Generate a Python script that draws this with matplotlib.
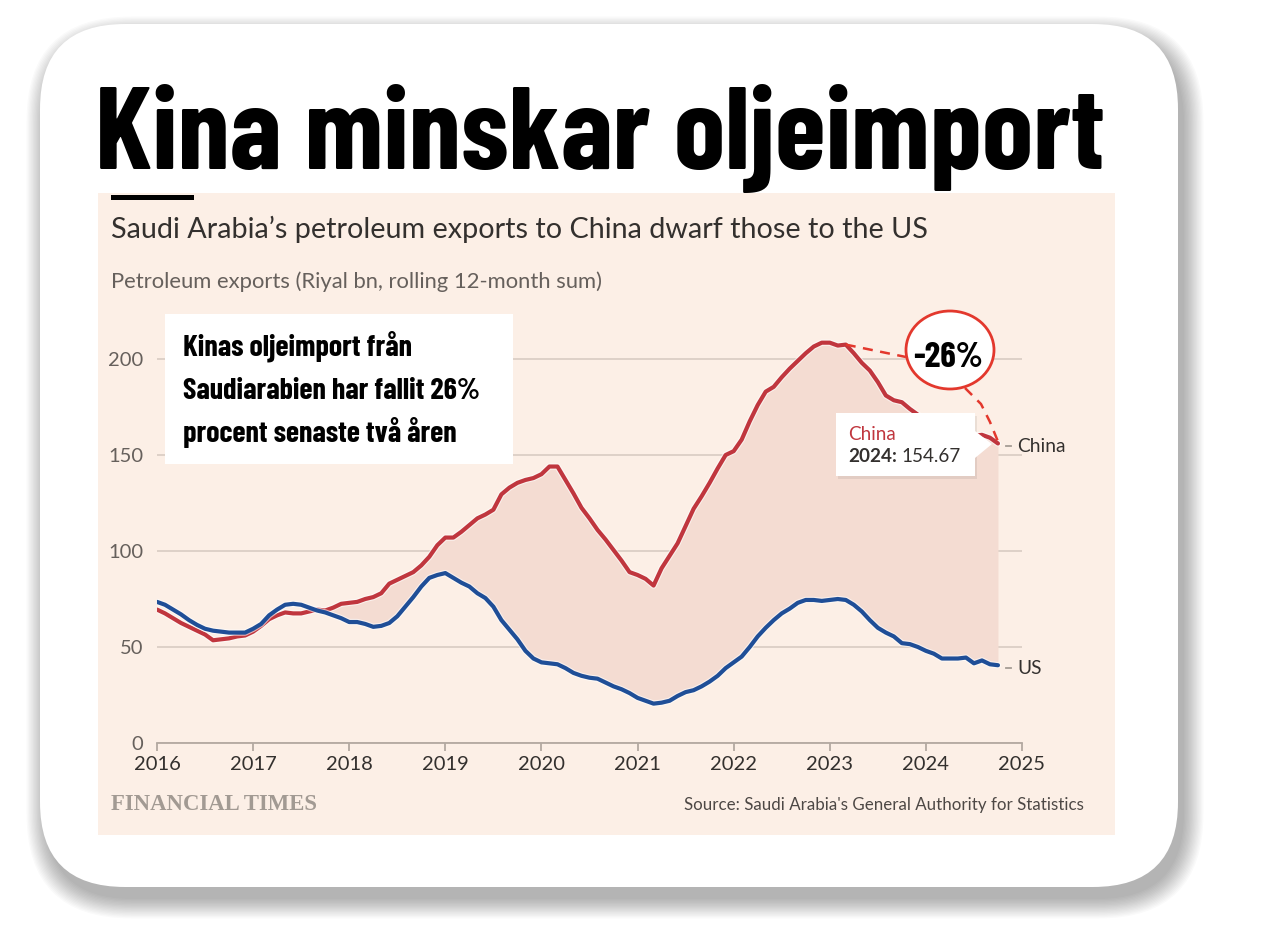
import numpy as np
import matplotlib
matplotlib.use("Agg")
import matplotlib.pyplot as plt
import matplotlib.patheffects as pe
from matplotlib import font_manager
from matplotlib.patches import FancyBboxPatch, Ellipse, Polygon, Rectangle

W, H = 1262, 926

# monthly values, Jan 2016 .. Oct 2024 (Riyal bn, rolling 12-month sum)
START_YEAR = 2016
CHINA = [
    69.5, 67.5, 65, 62.5, 60.5, 58.5, 56.5, 53.5, 54, 54.5, 55.5, 56,
    58, 61, 64.5, 66.5, 68, 67.5, 67.5, 68.5, 69.5, 69, 70.5, 72.5,
    73, 73.5, 75, 76, 78, 83, 85, 87, 89, 92.5, 97, 103,
    107, 107, 110, 113.5, 117, 119, 121.5, 129.5, 133, 135.5, 137, 138,
    140, 144, 144, 137, 130, 122.5, 117, 111, 106, 100.5, 95, 89,
    87.5, 85.5, 82, 91, 97.5, 104, 113, 122, 128.5, 135.5, 143, 150,
    152, 158, 167.5, 176, 183, 185.5, 190.5, 195, 199, 203, 206.5, 208.5,
    208.5, 207, 207.5, 203, 198, 194, 188, 181, 178.5, 177.5, 174, 171,
    168, 166, 164, 163, 162, 161, 160, 160.5, 159, 156,
]
US = [
    73.5, 72, 69.5, 67, 64, 61.5, 59.5, 58.5, 58, 57.5, 57.5, 57.5,
    59.5, 62, 66.5, 69.5, 72, 72.5, 72, 70.5, 69, 68, 66.5, 65,
    63, 63, 62, 60.5, 61, 62.5, 66, 71, 76, 81.5, 86, 87.5,
    88.5, 86, 83.5, 81.5, 78, 75.5, 71, 64, 59, 54, 48, 44,
    42, 41.5, 41, 39, 36.5, 35, 34, 33.5, 31.5, 29.5, 28, 26,
    23.5, 22, 20.5, 21, 22, 24.5, 26.5, 27.5, 29.5, 32, 35, 39,
    42, 45, 50, 55.5, 60, 64, 67.5, 70, 73, 74.5, 74.5, 74,
    74.5, 75, 74.5, 72, 68.5, 64, 60, 57.5, 55.5, 52, 51.5, 50,
    48, 46.5, 44, 44, 44, 44.5, 41.5, 43, 41, 40.5,
]
YEAR_TICKS = list(range(2016, 2026))
VALUE_TICKS = [0, 50, 100, 150, 200]

TITLE = "Kina minskar oljeimport"
SUBTITLE = "Saudi Arabia\u2019s petroleum exports to China dwarf those to the US"
UNITS = "Petroleum exports (Riyal bn, rolling 12-month sum)"
NOTE_LINES = ["Kinas oljeimport från", "Saudiarabien har fallit 26%", "procent senaste två åren"]
SOURCE = "Source: Saudi Arabia's General Authority for Statistics"
LOGO = "FINANCIAL TIMES"
BADGE = "-26%"
TIP_SERIES, TIP_YEAR, TIP_VALUE = "China", "2024:", "154.67"

RED = "#C0363E"
BLUE = "#1F4E97"
PAPER = "#FCEFE6"
INK = "#33302E"
GREY = "#66605C"

available = {f.name for f in font_manager.fontManager.ttflist}


def pick(cands, default="DejaVu Sans"):
    for c in cands:
        if c in available:
            return c
    return default


COND = pick(["Barlow Condensed", "Fjalla One", "Roboto Condensed", "DejaVu Sans"])
SANS = pick(["Lato", "Open Sans", "Noto Sans"])
SERIF = pick(["Liberation Serif", "DejaVu Serif"])

fig = plt.figure(figsize=(W / 100, H / 100), dpi=100)
fig.patch.set_facecolor("white")

bg = fig.add_axes([0, 0, 1, 1], zorder=0)
bg.set_xlim(0, W)
bg.set_ylim(H, 0)
bg.axis("off")

# card shadow + card
cx0, cy0, cx1, cy1, rad = 40, 24, 1178, 887, 85
for i in range(16):
    s = i * 1.3
    bg.add_patch(FancyBboxPatch((cx0 + 6 - s, cy0 + 12 - s), cx1 - cx0 + 2 * s, cy1 - cy0 + 2 * s,
                                boxstyle=f"round,pad=0,rounding_size={rad + s}",
                                fc="black", ec="none", alpha=0.018))
bg.add_patch(FancyBboxPatch((cx0, cy0), cx1 - cx0, cy1 - cy0,
                            boxstyle=f"round,pad=0,rounding_size={rad}", fc="white", ec="none"))
bg.add_patch(Rectangle((98, 193), 1115 - 98, 835 - 193, fc=PAPER, ec="none"))
bg.add_patch(Rectangle((111, 195), 83, 5, fc="black", ec="none"))

sub = bg.text(111, 229, SUBTITLE, fontsize=16, family=SANS, color=INK, va="center")
units = bg.text(111, 282, UNITS, fontsize=12.5, family=SANS, color=GREY, va="center")
logo = bg.text(111, 804, LOGO, fontsize=14, family=SERIF, weight="bold", color="#A29A93", va="center")
src = bg.text(1084, 805, SOURCE, fontsize=11, family=SANS, color="#4D4845", va="center", ha="right")

# chart axes
y_px0, px_per = 743, 1.92
ymax = 220
ax = fig.add_axes([157 / W, (H - y_px0) / H, (1022 - 157) / W, ymax * px_per / H], zorder=1)
ax.set_facecolor("none")
x = START_YEAR + np.arange(len(CHINA)) / 12
china = np.array(CHINA)
us = np.array(US)
ax.fill_between(x, us, china, where=china >= us, interpolate=True, color="#F4DCD2", lw=0)
halo = [pe.Stroke(linewidth=4.6, foreground="white", alpha=0.6), pe.Normal()]
ax.plot(x, china, color=RED, lw=3, solid_capstyle="round", path_effects=halo, zorder=3)
ax.plot(x, us, color=BLUE, lw=3, solid_capstyle="round", path_effects=halo, zorder=3)
ax.set_xlim(2016, 2025)
ax.set_ylim(0, ymax)
ax.set_xticks(YEAR_TICKS)
ax.set_yticks(VALUE_TICKS)
ax.grid(axis="y", color="#D8CCC3", lw=1.2)
ax.set_axisbelow(True)
for side in ("left", "right", "top"):
    ax.spines[side].set_visible(False)
ax.spines["bottom"].set_color("#B3A9A1")
ax.spines["bottom"].set_linewidth(1.3)
ax.tick_params(axis="x", length=6, width=1.3, color="#B3A9A1", pad=3, labelsize=14.5, labelcolor=INK)
ax.tick_params(axis="y", length=0, pad=10, labelsize=14.5, labelcolor=GREY)
for lab in ax.get_xticklabels() + ax.get_yticklabels():
    lab.set_family(SANS)


def to_px(xv, yv):
    dx, dy = ax.transData.transform((xv, yv))
    return dx, H - dy


# overlay layer
ov = fig.add_axes([0, 0, 1, 1], zorder=2)
ov.set_xlim(0, W)
ov.set_ylim(H, 0)
ov.axis("off")
ov.set_facecolor("none")

end_labels = []
for name, vals in (("China", china), ("US", us)):
    px, py = to_px(x[-1], vals[-1])
    ov.plot([1006, 1011], [py + 3, py + 3], color="#A59C95", lw=1.3)
    end_labels.append(ov.text(1017, py + 3, name, fontsize=13, family=SANS, color=INK, va="center"))

# note box
ov.add_patch(Rectangle((165, 314), 513 - 165, 464 - 314, fc="white", ec="none"))
notes = [ov.text(183, 356 + 43 * i, line, fontsize=22, family=COND, weight="bold",
                 color="black", va="baseline") for i, line in enumerate(NOTE_LINES)]

# badge with dashed connectors
bcx, bcy = 950, 350
peak = to_px(x[86], china[86])
end = to_px(x[-1], china[-1])
dash = dict(color="#E3382D", lw=1.8, ls=(0, (4, 3)))
ov.plot([peak[0], 906], [peak[1], 357], **dash)
ov.plot([965, 981, 990, end[0]], [388, 404, 422, end[1] - 2], **dash)
ov.add_patch(Ellipse((bcx, bcy), 88, 78, fc="white", ec="#E3382D", lw=2))
badge = ov.text(bcx - 2, bcy + 17, BADGE, fontsize=34, family=COND, weight="bold", color="black",
                ha="center", va="baseline")

# tooltip
ov.add_patch(Rectangle((838, 416), 139, 63, fc="black", ec="none", alpha=0.07))
ov.add_patch(Polygon([(975, 431), (992, 444), (975, 458)], closed=True, fc="white", ec="none"))
ov.add_patch(Rectangle((836, 413), 139, 63, fc="white", ec="none"))
tip_s = ov.text(848, 434, TIP_SERIES, fontsize=12.5, family=SANS, color=RED, va="center")
tip_y = ov.text(848, 456, TIP_YEAR, fontsize=12.5, family=SANS, weight="bold", color=INK, va="center")

# title
title = bg.text(95, 169, TITLE, fontsize=100, family=COND, weight="bold", color="black", va="baseline")

fig.canvas.draw()
rend = fig.canvas.get_renderer()


def fit(t, width):
    t.set_fontsize(t.get_fontsize() * width / t.get_window_extent(rend).width)


fit(title, 1010)
fit(sub, 820)
fit(units, 492)
fit(logo, 207)
fit(src, 398)
fit(badge, 70)
fit(notes[1], 298)
for t in notes:
    t.set_fontsize(notes[1].get_fontsize())
fit(end_labels[0], 48)
end_labels[1].set_fontsize(end_labels[0].get_fontsize())
fit(tip_s, 48)
tip_y.set_fontsize(tip_s.get_fontsize())
fig.canvas.draw()
yb = tip_y.get_window_extent(rend)
ov.text(yb.x1 + 5, 456, TIP_VALUE, fontsize=tip_s.get_fontsize(), family=SANS, color=INK, va="center")

fig.savefig("out.png", dpi=100, facecolor="white")
